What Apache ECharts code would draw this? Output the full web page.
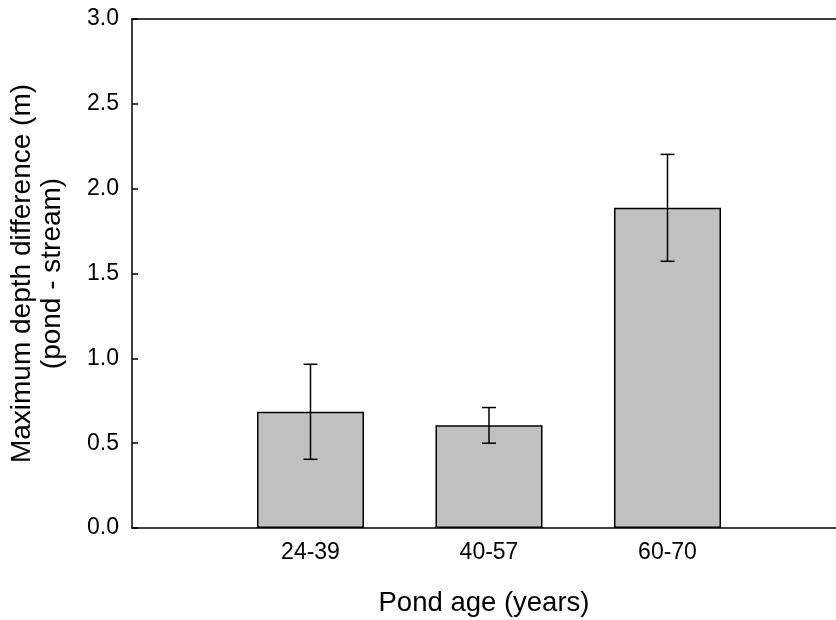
<!DOCTYPE html>
<html>
<head>
<meta charset="utf-8">
<script src="https://cdn.jsdelivr.net/npm/echarts@6/dist/echarts.min.js"></script>
<style>
  html, body { margin: 0; padding: 0; background: #fff; }
  #chart { width: 836px; height: 620px; }
</style>
</head>
<body>
<div id="chart"></div>
<script>
// Pond age groups and mean maximum depth difference (pond - stream), with error
const ageGroups = ['24-39', '40-57', '60-70'];
const meanDepthDiff = [0.685, 0.605, 1.887];
const errorHalf = [0.28, 0.105, 0.315];
const yTicks = [0.0, 0.5, 1.0, 1.5, 2.0, 2.5, 3.0];

const FONT = 'Liberation Sans, Arial, sans-serif';
const chart = echarts.init(document.getElementById('chart'));

// bars sit at x = 1, 2, 3; the frame runs past the last slot to the page edge
const X_MAX = 3.944;
const barData = meanDepthDiff.map((v, i) => [i + 1, v]);
const errData = meanDepthDiff.map((v, i) => [i + 1, v - errorHalf[i], v + errorHalf[i]]);

chart.setOption({
  animation: false,
  backgroundColor: '#fff',
  grid: { left: 132, right: 0, top: 19, bottom: 92, containLabel: false, outerBoundsMode: 'none' },
  xAxis: [{
    type: 'value',
    min: 0, max: X_MAX, interval: 1,
    position: 'bottom',
    name: 'Pond age (years)',
    nameLocation: 'middle',
    nameGap: 61,
    nameTextStyle: { fontFamily: FONT, fontSize: 27.5, color: '#000' },
    axisLine: { show: true, lineStyle: { color: '#000', width: 1.5 } },
    axisTick: { show: false },
    splitLine: { show: false },
    axisLabel: {
      fontFamily: FONT, fontSize: 23, color: '#000', margin: 13,
      showMaxLabel: false,
      formatter: v => (v >= 1 && v <= ageGroups.length && Number.isInteger(v)) ? ageGroups[v - 1] : ''
    }
  }, {
    type: 'value',
    min: 0, max: X_MAX,
    position: 'top',
    axisLine: { show: true, lineStyle: { color: '#000', width: 1.5 } },
    axisTick: { show: false },
    axisLabel: { show: false },
    splitLine: { show: false }
  }],
  yAxis: {
    type: 'value',
    min: yTicks[0], max: yTicks[yTicks.length - 1], interval: 0.5,
    name: 'Maximum depth difference (m)\n(pond - stream)',
    nameLocation: 'middle',
    nameGap: 65,
    nameTextStyle: { fontFamily: FONT, fontSize: 28, color: '#000', lineHeight: 30 },
    axisLine: { show: true, lineStyle: { color: '#000', width: 1.5 } },
    axisTick: { show: true, inside: true, length: 6, lineStyle: { color: '#000', width: 1.5 } },
    splitLine: { show: false },
    axisLabel: {
      fontFamily: FONT, fontSize: 23, color: '#000', margin: 13,
      formatter: v => v.toFixed(1)
    }
  },
  series: [{
    type: 'bar',
    data: barData,
    barWidth: 107,
    itemStyle: { color: '#c0c0c0', borderColor: '#000', borderWidth: 1.5 }
  }, {
    type: 'custom',
    data: errData,
    z: 10,
    renderItem: function (params, api) {
      const x = api.value(0);
      const lo = api.coord([x, api.value(1)]);
      const hi = api.coord([x, api.value(2)]);
      const half = 7;
      const style = { stroke: '#000', lineWidth: 1.5 };
      return {
        type: 'group',
        children: [
          { type: 'line', shape: { x1: lo[0], y1: lo[1], x2: hi[0], y2: hi[1] }, style },
          { type: 'line', shape: { x1: hi[0] - half, y1: hi[1], x2: hi[0] + half, y2: hi[1] }, style },
          { type: 'line', shape: { x1: lo[0] - half, y1: lo[1], x2: lo[0] + half, y2: lo[1] }, style }
        ]
      };
    }
  }]
});
</script>
</body>
</html>
